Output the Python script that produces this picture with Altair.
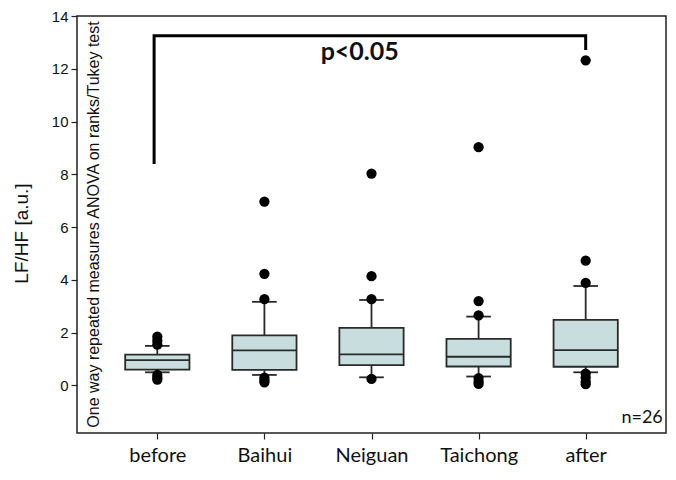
import altair as alt
import pandas as pd

# ---- data ----
groups = ["before", "Baihui", "Neiguan", "Taichong", "after"]
positions = [1, 2, 3, 4, 5]
q1 = [0.60, 0.59, 0.77, 0.72, 0.71]
median = [0.96, 1.33, 1.18, 1.09, 1.34]
q3 = [1.17, 1.90, 2.18, 1.77, 2.49]
whisker_low = [0.50, 0.40, 0.31, 0.34, 0.50]
whisker_high = [1.50, 3.17, 3.24, 2.61, 3.77]

outliers_before = [1.55, 1.70, 1.85, 0.40, 0.30, 0.22]
outliers_baihui = [3.27, 4.23, 6.97, 0.30, 0.20, 0.12]
outliers_neiguan = [3.27, 4.14, 8.03, 0.25]
outliers_taichong = [2.66, 3.20, 9.03, 0.28, 0.15, 0.06]
outliers_after = [3.89, 4.73, 12.32, 0.45, 0.30, 0.15, 0.05]

# significance bracket (group position, value)
bracket_x = [0.97, 0.97, 5.0, 5.0]
bracket_y = [8.45, 13.25, 13.25, 12.77]

y_ticks = [0, 2, 4, 6, 8, 10, 12, 14]

# ---- tables ----
box_df = pd.DataFrame({
    "group": groups, "pos": positions, "q1": q1, "median": median,
    "q3": q3, "wl": whisker_low, "wh": whisker_high,
})
out_lists = [outliers_before, outliers_baihui, outliers_neiguan,
             outliers_taichong, outliers_after]
out_df = pd.DataFrame(
    [{"pos": p, "v": v} for p, lst in zip(positions, out_lists) for v in lst]
)
bracket_df = pd.DataFrame({"x": bracket_x, "y": bracket_y,
                           "o": list(range(len(bracket_x)))})

xscale = alt.Scale(domain=[0.25, 5.75], nice=False, zero=False)
yscale = alt.Scale(domain=[-1.8, 14], nice=False, zero=False)

label_map = "{" + ",".join(f"{p}:'{g}'" for p, g in zip(positions, groups)) + "}"

x_axis = alt.Axis(
    values=positions, labelExpr=f"{label_map}[datum.value]", title=None,
    grid=False, domain=False, tickSize=6, tickColor="#222", tickWidth=1.2,
    labelFont="Lato", labelFontSize=20, labelColor="#111", labelPadding=6,
)
y_axis = alt.Axis(
    values=y_ticks, title="LF/HF [a.u.]", grid=False, domain=False,
    tickSize=6, tickColor="#222", tickWidth=1.2,
    labelFont="Liberation Sans", labelFontSize=15, labelColor="#111",
    labelPadding=3, titleFont="Liberation Sans", titleFontSize=19,
    titleFontWeight="normal", titleColor="#111",
    titleX=-56, titleY=217, titleAlign="center", titleBaseline="middle",
)

base = alt.Chart(box_df)

stroke = "#2a2a2a"
sw = 1.8

upper_whisker = base.mark_rule(color=stroke, strokeWidth=sw).encode(
    x=alt.X("pos:Q", scale=xscale, axis=x_axis),
    y=alt.Y("q3:Q", scale=yscale, axis=y_axis), y2="wh:Q")
lower_whisker = base.mark_rule(color=stroke, strokeWidth=sw).encode(
    x="pos:Q", y="wl:Q", y2="q1:Q")

caps_hi = base.transform_calculate(
    a="datum.pos - 0.115", b="datum.pos + 0.115"
).mark_rule(color=stroke, strokeWidth=sw).encode(x="a:Q", x2="b:Q", y="wh:Q")
caps_lo = base.transform_calculate(
    a="datum.pos - 0.115", b="datum.pos + 0.115"
).mark_rule(color=stroke, strokeWidth=sw).encode(x="a:Q", x2="b:Q", y="wl:Q")

boxes = base.transform_calculate(
    a="datum.pos - 0.3", b="datum.pos + 0.3"
).mark_rect(fill="#c8dede", stroke=stroke, strokeWidth=sw).encode(
    x="a:Q", x2="b:Q", y="q1:Q", y2="q3:Q")

medians = base.transform_calculate(
    a="datum.pos - 0.3", b="datum.pos + 0.3"
).mark_rule(color=stroke, strokeWidth=sw).encode(x="a:Q", x2="b:Q", y="median:Q")

points = alt.Chart(out_df).mark_circle(size=105, color="black", opacity=1).encode(
    x="pos:Q", y="v:Q")

bracket = alt.Chart(bracket_df).mark_line(color="black", strokeWidth=3,
                                          strokeCap="square").encode(
    x="x:Q", y="y:Q", order="o:Q")

ann_df = pd.DataFrame({
    "x": [2.89, 5.72, 0.41],
    "y": [12.32, -1.43, 6.1],
    "t": ["p<0.05", "n=26", "One way repeated measures ANOVA on ranks/Tukey test"],
})
p_text = alt.Chart(ann_df.iloc[[0]]).mark_text(
    font="Lato", fontSize=25, fontWeight="bold", color="#111",
    align="center", baseline="alphabetic").encode(x="x:Q", y="y:Q", text="t:N")
n_text = alt.Chart(ann_df.iloc[[1]]).mark_text(
    font="Lato", fontSize=18, color="#111",
    align="right", baseline="alphabetic").encode(x="x:Q", y="y:Q", text="t:N")
side_text = alt.Chart(ann_df.iloc[[2]]).mark_text(
    font="Liberation Sans", fontSize=16, color="#111", angle=270,
    align="center", baseline="middle").encode(x="x:Q", y="y:Q", text="t:N")

chart = alt.layer(
    upper_whisker, lower_whisker, caps_hi, caps_lo, boxes, medians,
    points, bracket, p_text, n_text, side_text
).properties(
    width=589, height=417,
    autosize=alt.AutoSizeParams(type="none"),
    padding={"left": 69, "top": 8, "right": 2, "bottom": 40},
    background="white",
).configure_view(stroke="#222222", strokeWidth=1.5)

chart.save("out.html", embed_options={"renderer": "svg", "actions": False})
